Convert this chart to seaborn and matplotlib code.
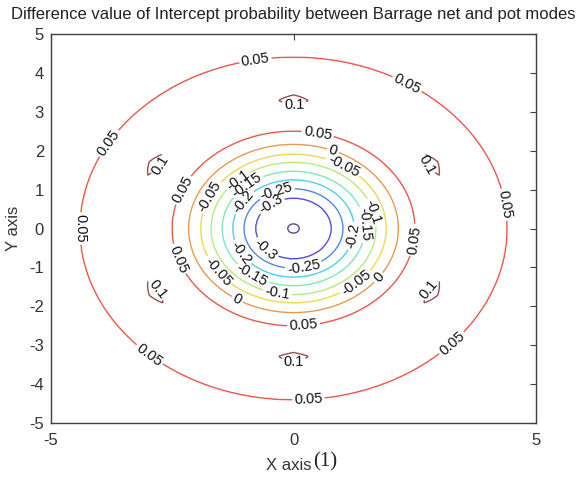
import numpy as np
import matplotlib
matplotlib.use("Agg")
import matplotlib.pyplot as plt
import seaborn as sns

# ---- data ----
# radial profile of the difference value (distance from origin -> value)
radius = [0.0, 0.12, 0.78, 1.02, 1.25, 1.47, 1.70, 1.91, 2.16, 2.50, 2.90, 3.30, 3.70, 4.40, 5.50, 7.20]
value = [-0.356, -0.35, -0.30, -0.25, -0.20, -0.15, -0.10, -0.05, 0.0, 0.05, 0.085, 0.095, 0.088, 0.05, 0.025, 0.01]
# small angular ridge bumps on the ring (angle in degrees -> extra value)
bump_angle = [0, 20, 30, 40, 80, 90, 100, 140, 150, 160, 200, 210, 220, 260, 270, 280, 320, 330, 340, 360]
bump_value = [0, 0, 0.011, 0, 0, 0.011, 0, 0, 0.011, 0, 0, 0.011, 0, 0, 0.011, 0, 0, 0.011, 0, 0]
bump_radius = [2.9, 3.3, 3.7]
bump_window = [0.0, 1.0, 0.0]
levels = [-0.35, -0.3, -0.25, -0.2, -0.15, -0.1, -0.05, 0.0, 0.05, 0.1]
xticks = [-5, 0, 5]
yticks = [-5, -4, -3, -2, -1, 0, 1, 2, 3, 4, 5]

# build gridded field from the arrays
gx = np.linspace(-5, 5, 401)
gy = np.linspace(-5, 5, 401)
X, Y = np.meshgrid(gx, gy)
R = np.hypot(X, Y)
TH = np.degrees(np.arctan2(Y, X)) % 360
Z = np.interp(R, radius, value) + np.interp(TH, bump_angle, bump_value) * np.interp(R, bump_radius, bump_window)

sns.set_theme(style="white")
plt.rcParams['font.family'] = ['Liberation Sans', 'DejaVu Sans']
plt.rcParams['axes.unicode_minus'] = False
plt.rcParams['contour.negative_linestyle'] = 'solid'

fig = plt.figure(figsize=(5.76, 4.79), dpi=100)
ax = fig.add_axes([51/576, 1-423/479, (536-51)/576, (423-34)/479])

jet = plt.get_cmap('jet')

label_pos = [
    [],
    [(-0.45, 0.6), (-0.55, -0.5)],
    [(-0.35, 0.95), (0.21, -1.0)],
    [(-1.05, 0.7), (-1.1, -0.65), (1.25, -0.2)],
    [(-0.95, 1.1), (-0.85, -1.2), (1.45, 0.1)],
    [(-1.15, 1.25), (-0.33, -1.65), (1.6, 0.4)],
    [(1.03, 1.6), (-1.7, 0.8), (-1.55, -1.1), (1.3, -1.4)],
    [(0.8, 1.95), (-1.15, -1.8), (1.75, -1.25)],
    [(-0.78, 4.3), (2.3, 3.6), (-4.0, 2.4), (-4.4, 0.0), (4.3, 0.6), (-3.0, -3.3), (3.3, -3.0), (0.31, -4.45),
     (0.49, 2.4), (-2.3, 1.0), (-2.4, -0.8), (2.5, -0.3), (0.21, -2.5)],
    [(0, 3.25), (0, -3.4), (2.75, 1.65), (-2.8, 1.65), (-2.85, -1.65), (2.85, -1.65)],
]

fmt = lambda v: ('%g' % v)
for lv, pos in zip(levels, label_pos):
    c = np.array(jet((lv + 0.35) / 0.45)[:3])
    c = tuple(np.clip(0.62 * c + 0.3 * np.ones(3), 0, 1))
    cs = ax.contour(X, Y, Z, levels=[lv], colors=[c], linewidths=1.0, linestyles='solid')
    if pos:
        ax.clabel(cs, manual=pos, inline=True, fmt=fmt, fontsize=10.5, colors='#111111', inline_spacing=2)

ax.set_xlim(-5, 5)
ax.set_ylim(-5, 5)
ax.set_xticks(xticks)
ax.set_yticks(yticks)
ax.tick_params(direction='in', top=True, right=True, length=4, width=0.8, color='#404040',
               labelsize=12, labelcolor='#333333')
ax.tick_params(axis='x', pad=7)
ax.tick_params(axis='y', pad=5)
for s in ax.spines.values():
    s.set_color('#404040')
    s.set_linewidth(1.0)
    s.set_visible(True)
ax.set_xlabel('X axis', fontsize=12, color='#333333')
ax.xaxis.set_label_coords(0.49, -0.108)
ax.xaxis.label.set_va('center')
ax.set_ylabel('Y axis', fontsize=12, color='#333333', labelpad=6)
ax.set_title('Difference value of Intercept probability between Barrage net and pot modes',
             fontsize=12, color='#222222', pad=11)
fig.text(325/576, 1-462/479, '(1)', family=['Liberation Serif', 'DejaVu Serif'], fontsize=15,
         ha='center', va='center', color='#222222')
ax.grid(False)
fig.savefig('out.png', dpi=100, facecolor='white')
